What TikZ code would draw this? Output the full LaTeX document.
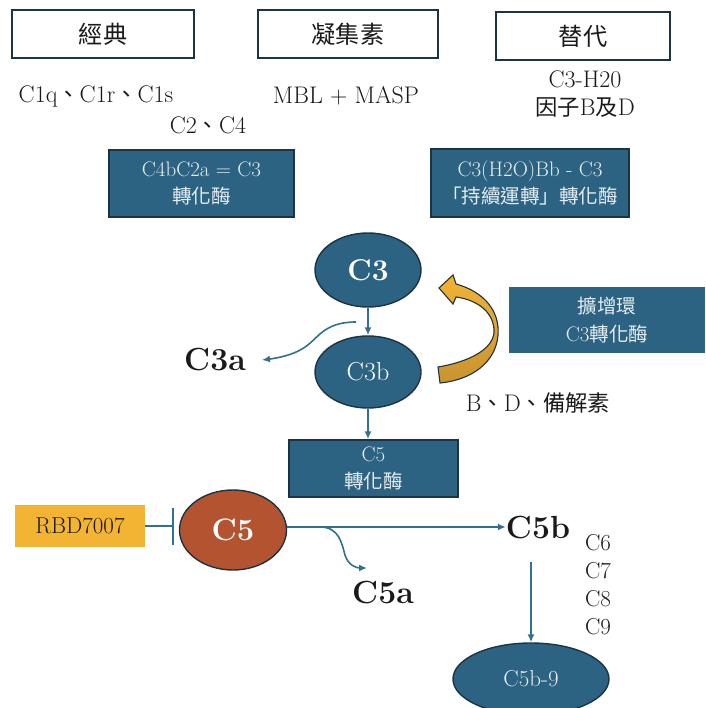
\documentclass[tikz,border=0pt]{standalone}
\usepackage{fontspec}
\newfontfamily\cjk[Scale=0.93]{Noto Sans CJK TC}
\usetikzlibrary{arrows.meta,shapes.geometric}
\definecolor{boxblue}{HTML}{2D6382}
\definecolor{edgedark}{HTML}{1C3344}
\definecolor{flowblue}{HTML}{31708F}
\definecolor{rust}{HTML}{B4532F}
\definecolor{gold}{HTML}{F4B433}
\definecolor{goldtop}{HTML}{F2B332}
\definecolor{goldlow}{HTML}{C89430}
\definecolor{ink}{HTML}{1A1A1A}
\definecolor{paletext}{HTML}{E6EDF2}
\newcommand{\fs}[1]{\fontsize{#1}{#1}\selectfont}
\begin{document}
\begin{tikzpicture}[x=1pt,y=-1pt,
  titlebox/.style={draw=edgedark, line width=1.6pt, fill=white, inner sep=0pt,
    minimum height=48pt, font=\fs{26}\cjk, text=ink},
  bluebox/.style={draw=edgedark, line width=1.4pt, fill=boxblue, inner sep=0pt,
    align=center, text=paletext, font=\fontsize{21}{27}\selectfont},
  blueoval/.style={ellipse, draw=edgedark, line width=1.4pt, fill=boxblue,
    inner sep=0pt, text=white},
  plain/.style={text=ink, font=\fontsize{24}{28}\selectfont, align=center, inner sep=0pt},
  biglabel/.style={text=ink, font=\fs{32}\bfseries, inner sep=0pt},
  flow/.style={draw=flowblue, line width=1.6pt, -{Latex[length=8pt,width=7pt]}},
]
\useasboundingbox (0,0) rectangle (705,708);

% pathway headers
\node[titlebox, minimum width=182pt] (classic) at (103,34) {經典};
\node[titlebox, minimum width=180pt] (lectin) at (348,34) {凝集素};
\node[titlebox, minimum width=174pt] (altern) at (583,36) {替代};

% initiating components
\node[plain] (c1) at (96,96) {C1q{\cjk 、}C1r{\cjk 、}C1s};
\node[plain] (c24) at (208,125) {C2{\cjk 、}C4};
\node[plain] (mbl) at (346,96) {MBL + MASP};
\node[plain] (h2o) at (585,94) {C3-H20\\{\cjk 因子}B{\cjk 及}D};

% C3 convertases
\node[bluebox, minimum width=185pt, minimum height=67pt] (conv1) at (201.5,183.5)
  {C4bC2a = C3\\{\cjk 轉化酶}};
\node[bluebox, minimum width=198pt, minimum height=68pt] (conv2) at (530,183)
  {C3(H2O)Bb - C3\\{\cjk 「持續運轉」轉化酶}};

% C3 cleavage
\node[blueoval, minimum width=106pt, minimum height=74pt, font=\fs{30}\bfseries] (c3) at (368,270) {C3};
\node[blueoval, minimum width=106pt, minimum height=72pt, font=\fs{26}] (c3b) at (368,372) {C3b};
\node[biglabel] (c3a) at (215,360) {C3a};
\coordinate (c3split) at (356,322);
\coordinate (c3atip) at (262,360);
\draw[flow] (c3) -- (c3b);
\draw[flow] (c3split) .. controls (322,322) and (318,340) .. (302,349)
  .. controls (292,355) and (278,358) .. (c3atip);

% amplification loop
\path[draw=edgedark, line width=1.1pt, top color=goldtop, bottom color=goldlow]
  (439,288) -- (453,275) -- (456,284)
  .. controls (485,292) and (500,312) .. (498,335)
  .. controls (496,362) and (472,380) .. (440,383)
  -- (438,367)
  .. controls (468,362) and (492,350) .. (494,333)
  .. controls (495,313) and (478,300) .. (456,297)
  -- (453,304) -- cycle;
\node[bluebox, draw=none, minimum width=196pt, minimum height=66pt, font=\fontsize{21}{28}\selectfont] (amp) at (607,320)
  {{\cjk 擴增環}\\C3{\cjk 轉化酶}};
\node[plain] (bdp) at (538,403) {B{\cjk 、}D{\cjk 、備解素}};

% C5 convertase and cleavage
\node[bluebox, minimum width=169pt, minimum height=57pt] (conv5) at (373.5,468.5)
  {C5\\{\cjk 轉化酶}};
\draw[flow] (c3b) -- (c3b |- conv5.north);

\node[ellipse, draw=edgedark, line width=1.4pt, fill=rust, inner sep=0pt, text=white,
  minimum width=107pt, minimum height=80pt, font=\fs{31}\bfseries] (c5) at (233,530) {C5};
\node[fill=gold, inner sep=0pt, minimum width=130pt, minimum height=42pt,
  text=ink, font=\fs{23}] (rbd) at (80,526) {RBD7007};
\draw[draw=flowblue, line width=1.6pt, -{Bar[width=37pt,line width=1.6pt]}, shorten >=5pt]
  (rbd.east) -- (rbd.east -| c5.west);

\node[biglabel] (c5b) at (538,528) {C5b};
\node[biglabel] (c5a) at (383,593) {C5a};
\coordinate (c5out) at (287,527);
\coordinate (c5split) at (320,527);
\coordinate (c5atip) at (367,568);
\draw[flow] (c5out) -- (c5out -| c5b.west);
\draw[flow] (c5split) .. controls (340,527) and (342,545) .. (345,555)
  .. controls (348,565) and (356,568) .. (c5atip);

% terminal components
\node[plain, font=\fs{23}] (c6) at (598,543) {C6};
\node[plain, font=\fs{23}] (c7) at (598,571) {C7};
\node[plain, font=\fs{23}] (c8) at (598,599) {C8};
\node[plain, font=\fs{23}] (c9) at (598,627) {C9};

\node[blueoval, minimum width=156pt, minimum height=72pt, font=\fs{23}, text=paletext] (mac) at (531,679) {C5b-9};
\coordinate (c5bfoot) at (531,562);
\draw[flow] (c5bfoot) -- (mac);
\end{tikzpicture}
\end{document}
